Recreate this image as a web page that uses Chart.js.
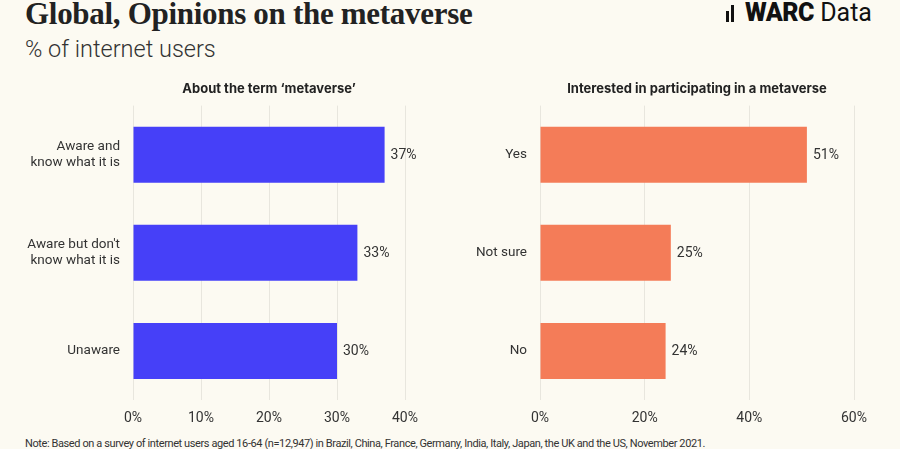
<!DOCTYPE html>
<html>
<head>
<meta charset="utf-8">
<script src="https://cdn.jsdelivr.net/npm/chart.js@4"></script>
<style>
  html, body { margin: 0; padding: 0; }
  body { width: 900px; height: 449px; background: #fcfaf2; position: relative; overflow: hidden; color: #333; }
  #title { position: absolute; left: 25px; top: -4px; font: bold 31px "Liberation Serif", serif; color: #222; letter-spacing: -0.3px; }
  #sub { position: absolute; left: 25px; top: 35px; font: 300 23.5px Roboto, sans-serif; color: #333; }
  #logo { position: absolute; left: 726px; top: -2px; font: 25px Roboto, sans-serif; color: #111; white-space: nowrap; }
  #logo b { font-weight: 900; letter-spacing: -0.5px; }
  #logo .ic { display: inline-block; width: 10px; height: 17px; margin-right: 9px; position: relative; top: 1px; }
  #logo .ic i { position: absolute; bottom: 0; background: #111; width: 3px; }
  #note { position: absolute; left: 25px; top: 437px; font: 11px Roboto, sans-serif; color: #333; letter-spacing: -0.4px; white-space: nowrap; }
  .wrap { position: absolute; top: 70px; width: 450px; height: 360px; }
</style>
</head>
<body>
<div id="title">Global, Opinions on the metaverse</div>
<div id="sub">% of internet users</div>
<div id="logo"><span class="ic"><i style="left:0;height:11px"></i><i style="left:5px;height:17px"></i></span><b>WARC</b> Data</div>
<div class="wrap" style="left:0"><canvas id="c1"></canvas></div>
<div class="wrap" style="left:450px"><canvas id="c2"></canvas></div>
<div id="note">Note: Based on a survey of internet users aged 16-64 (n=12,947) in Brazil, China, France, Germany, India, Italy, Japan, the UK and the US, November 2021.</div>
<script>
const termLabels = [['Aware and', 'know what it is'], ["Aware but don't", 'know what it is'], 'Unaware'];
const termValues = [37, 33, 30];
const termTicks = [0, 10, 20, 30, 40];

const interestLabels = ['Yes', 'Not sure', 'No'];
const interestValues = [51, 25, 24];
const interestTicks = [0, 20, 40, 60];

const font = 'Roboto';
const textColor = '#333';
const gridColor = '#e8e6de';

const valueLabels = {
  id: 'valueLabels',
  afterDatasetsDraw(chart) {
    const ctx = chart.ctx;
    const meta = chart.getDatasetMeta(0);
    ctx.save();
    ctx.font = '14px ' + font;
    ctx.fillStyle = textColor;
    ctx.textAlign = 'left';
    ctx.textBaseline = 'middle';
    meta.data.forEach((bar, i) => {
      ctx.fillText(chart.data.datasets[0].data[i] + '%', bar.x + 6, bar.y + 1);
    });
    ctx.restore();
  }
};

function makeChart(id, title, labels, values, ticks, color, yWidth, padRight) {
  new Chart(document.getElementById(id), {
    type: 'bar',
    data: {
      labels: labels,
      datasets: [{
        data: values,
        backgroundColor: color,
        barPercentage: 0.57,
        categoryPercentage: 1
      }]
    },
    plugins: [valueLabels],
    options: {
      indexAxis: 'y',
      responsive: true,
      maintainAspectRatio: false,
      animation: false,
      layout: { padding: { right: padRight, top: 0, bottom: 0 } },
      plugins: {
        legend: { display: false },
        tooltip: { enabled: false },
        title: {
          display: true,
          text: title,
          fullSize: false,
          color: '#222',
          font: { family: 'Inter', size: 13, weight: 'bold' },
          padding: { top: 11, bottom: 9 }
        }
      },
      scales: {
        x: {
          min: ticks[0],
          max: ticks[ticks.length - 1],
          afterBuildTicks: s => { s.ticks = ticks.map(v => ({ value: v })); },
          afterFit: s => { s.height = 30; },
          grid: { color: gridColor, drawTicks: false },
          border: { display: false },
          ticks: { color: textColor, font: { family: font, size: 14 }, padding: 10, callback: v => v + '%' }
        },
        y: {
          afterFit: s => { s.width = yWidth; },
          grid: { display: false, drawTicks: false },
          border: { display: false },
          ticks: { color: textColor, font: { family: font, size: 13.5 }, padding: 13 }
        }
      }
    }
  });
}

makeChart('c1', 'About the term \u2018metaverse\u2019', termLabels, termValues, termTicks, '#4640f8', 133, 45);
makeChart('c2', 'Interested in participating in a metaverse', interestLabels, interestValues, interestTicks, '#f47c58', 90, 46);
</script>
</body>
</html>
